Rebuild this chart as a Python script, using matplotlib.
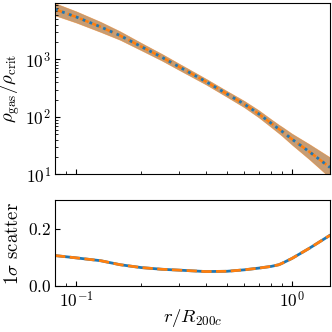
import matplotlib
matplotlib.use("Agg")
import matplotlib.pyplot as plt
import numpy as np

plt.rcParams['font.family'] = ['cmr10', 'DejaVu Serif']
plt.rcParams['mathtext.fontset'] = 'cm'
plt.rcParams['axes.formatter.use_mathtext'] = True
plt.rcParams['font.size'] = 12.5
plt.rcParams['axes.labelsize'] = 13.5

# radii in units of R200c
r = [0.08, 0.1, 0.13, 0.16, 0.2, 0.25, 0.3, 0.4, 0.5, 0.6, 0.7, 0.8, 0.87, 0.9, 1.0, 1.2, 1.5]
# median gas density / rho_crit
rho = [7450, 5500, 3680, 2600, 1680, 1090, 745, 411, 251, 168, 114, 78, 61.5, 56, 41, 25, 13.2]
# 1 sigma scatter (dex)
sig = [0.106, 0.098, 0.088, 0.074, 0.064, 0.058, 0.055, 0.050, 0.051, 0.056, 0.062, 0.068, 0.074, 0.079, 0.096, 0.131, 0.177]

r = np.array(r)
rho = np.array(rho)
sig = np.array(sig)
lo = rho * 10**(-sig)
hi = rho * 10**(sig)

fig, (ax1, ax2) = plt.subplots(2, 1, figsize=(3.32, 3.32), dpi=100, sharex=True,
                               gridspec_kw={'height_ratios': [2, 1], 'hspace': 0.2})
fig.subplots_adjust(left=0.166, right=0.994, top=0.991, bottom=0.139)

ax1.fill_between(r, lo, hi, color='C0', alpha=0.5, lw=0)
ax1.fill_between(r, lo, hi, color='C1', alpha=0.5, lw=0.5)
ax1.plot(r, rho, color='C1', ls='--', lw=1.8)
ax1.plot(r, rho, color='C0', ls=':', lw=2)
ax1.set_yscale('log')
ax1.set_xscale('log')
ax1.set_ylim(10, 9600)
ax1.set_ylabel(r'$\rho_{\rm gas}/\rho_{\rm crit}$')
ax1.yaxis.set_label_coords(-0.12, 0.5)

ax2.plot(r, sig, color='C0', lw=2)
ax2.plot(r, sig, color='C1', ls='--', lw=2)
ax2.set_ylim(0, 0.3)
ax2.set_xlim(0.08, 1.5)
ax2.set_ylabel(r'$1\sigma$ scatter')
ax2.yaxis.set_label_coords(-0.12, 0.5)
ax2.set_xlabel(r'$r/R_{200c}$')
ax2.xaxis.set_label_coords(0.5, -0.25)

for ax in (ax1, ax2):
    ax.tick_params(which='both', direction='in', pad=3)

fig.savefig('out.png', dpi=100)
